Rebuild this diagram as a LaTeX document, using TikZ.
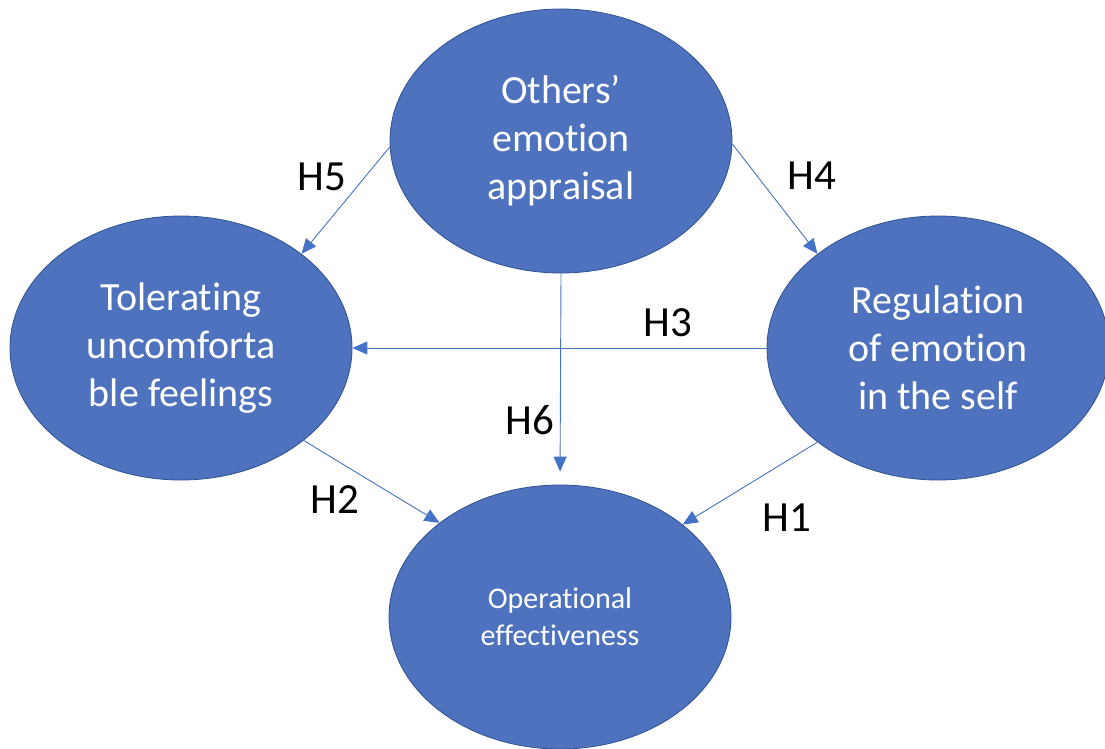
\documentclass[tikz,border=0pt]{standalone}
\usepackage{fontspec}
\setmainfont{Carlito}[Ligatures={NoCommon}]
\usetikzlibrary{shapes.geometric,arrows.meta}
\definecolor{fillblue}{HTML}{4E72BE}
\definecolor{edgeblue}{HTML}{2F528F}
\definecolor{arrowblue}{HTML}{4472C4}
\begin{document}
\begin{tikzpicture}[x=1pt,y=-1pt,
  ell/.style={ellipse, draw=edgeblue, line width=0.8pt, fill=fillblue,
    minimum width=342pt, minimum height=264pt, inner sep=0pt,
    text=white, align=center, font=\fontsize{40}{48}\selectfont},
  lab/.style={font=\fontsize{43}{50}\selectfont, text=black, inner sep=0pt},
  arr/.style={draw=arrowblue, line width=0.9pt, -{Triangle[length=15pt,width=13pt]}}]
\useasboundingbox (0,0) rectangle (1105,748);
\node[ell] (top) at (561,141) {Others’\\emotion\\appraisal};
\node[ell] (left) at (181,348) {Tolerating\\uncomforta\\ble feelings};
\node[ell] (right) at (938,348) {Regulation\\of emotion\\in the self};
\node[ell, font=\fontsize{30}{37}\selectfont] (bottom) at (560,617) {Operational\\effectiveness};

\draw[arr] (top.182) -- (left.38.5);
\draw[arr] (top.359) -- (right.142.4);
\draw[arr] (right.west) -- (left.east);
\draw[arr, shorten >=13pt] (top.south) -- (bottom.north);
\draw[arr] (left.-37.5) -- (bottom.142.9);
\draw[arr] (right.218.4) -- (bottom.37.3);

\node[lab] (h5) at (322,177) {H5};
\node[lab] (h4) at (812,176) {H4};
\node[lab] (h3) at (668,323) {H3};
\node[lab] (h6) at (530,420) {H6};
\node[lab] (h2) at (335,500) {H2};
\node[lab] (h1) at (787,518) {H1};
\end{tikzpicture}
\end{document}
